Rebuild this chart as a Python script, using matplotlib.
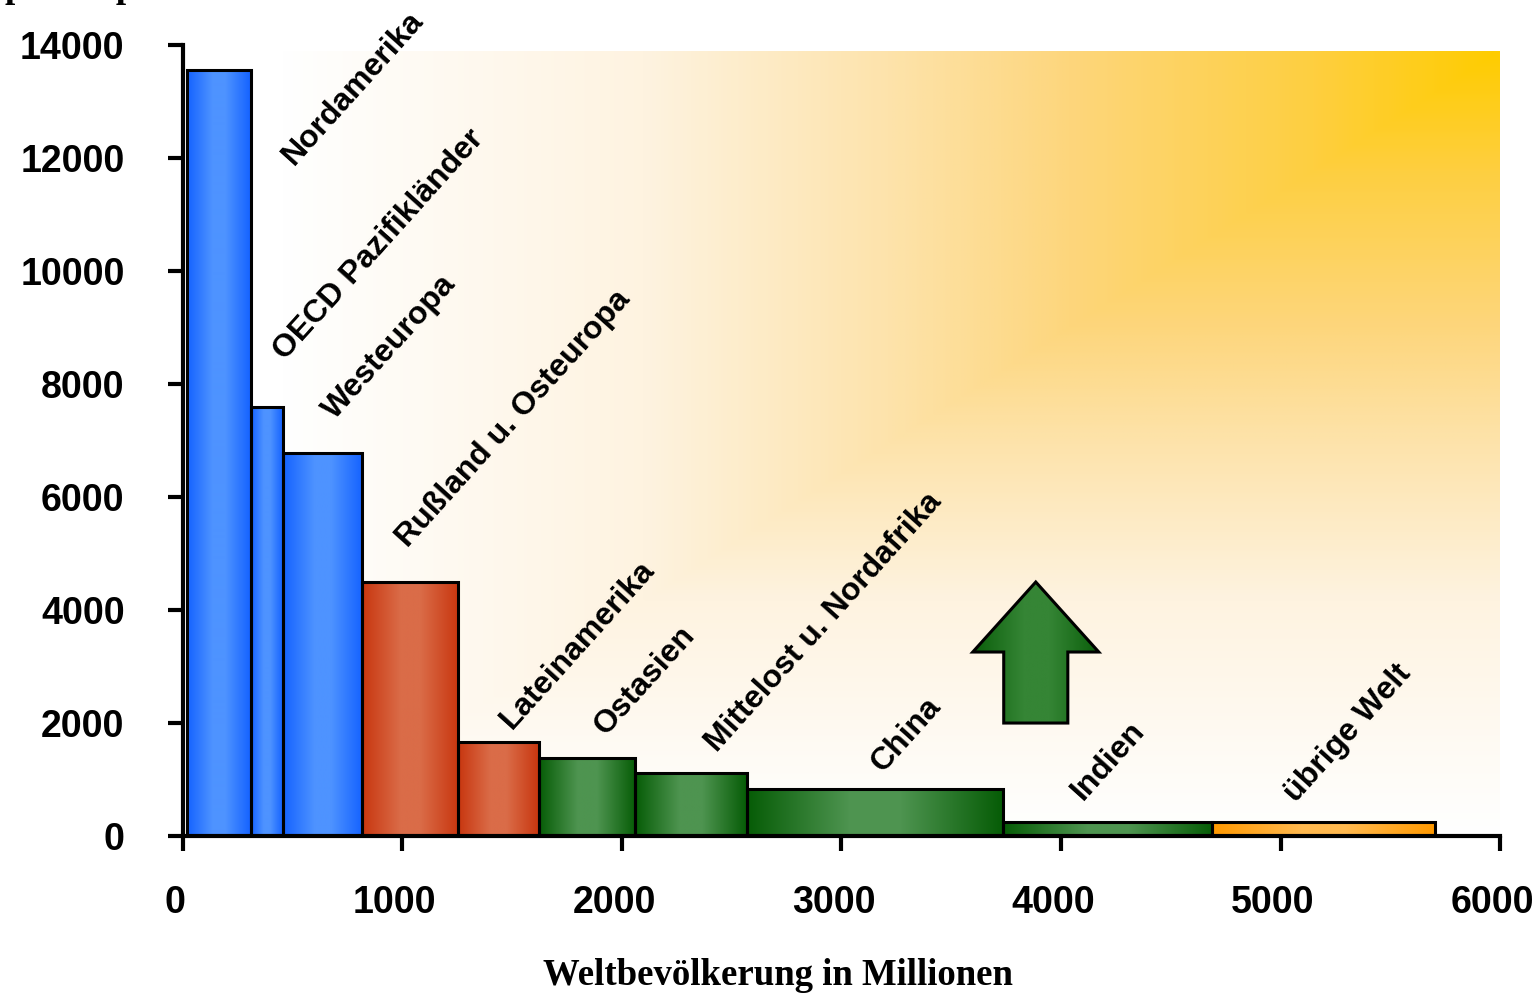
import numpy as np
import matplotlib
matplotlib.use("Agg")
import matplotlib.pyplot as plt
import matplotlib.transforms as mtransforms
from matplotlib.colors import LinearSegmentedColormap
from matplotlib.patches import Polygon

# Regionen: Bevoelkerung (Mio.) als Balkenbreite, Verbrauch pro Kopf als Hoehe
regions = ["Nordamerika", "OECD Pazifikländer", "Westeuropa", "Rußland u. Osteuropa",
           "Lateinamerika", "Ostasien", "Mittelost u. Nordafrika", "China",
           "Indien", "übrige Welt"]
population = [290, 145, 360, 440, 365, 440, 510, 1165, 955, 1015]
per_capita = [13550, 7600, 6780, 4500, 1670, 1390, 1110, 830, 240, 240]
group = ["blau", "blau", "blau", "rot", "rot", "gruen", "gruen", "gruen", "gruen", "orange"]
x_start = 20

# Lage der schraegen Beschriftungen (Datenkoordinaten)
lab_x = [505, 465, 690, 1025, 1500, 1925, 2435, 3190, 4100, 5070]
lab_y = [11850, 8400, 7350, 5100, 1880, 1770, 1470, 1115, 620, 585]

# Pfeil (Datenkoordinaten)
arrow_x = [3885, 4172, 4031, 4031, 3739, 3739, 3598]
arrow_y = [4496, 3257, 3257, 2000, 2000, 3257, 3257]

xticks = [0, 1000, 2000, 3000, 4000, 5000, 6000]
yticks = [0, 2000, 4000, 6000, 8000, 10000, 12000, 14000]

sans = "Liberation Sans"
serif = "Liberation Serif"

bar_cols = {
    "blau": ("#1462ff", "#4e93ff"),
    "rot": ("#c8360f", "#da6c48"),
    "gruen": ("#065c06", "#4e9450"),
    "orange": ("#ff9900", "#ffb94f"),
}
cmaps = {k: LinearSegmentedColormap.from_list(k, [(0, d), (0.4, l), (0.6, l), (1, d)])
         for k, (d, l) in bar_cols.items()}
bg_cmap = LinearSegmentedColormap.from_list(
    "bg", [(0, "#ffffff"), (0.3, "#fef3e0"), (0.5, "#fde3ab"),
           (0.65, "#fdd67c"), (0.85, "#fecf40"), (1, "#ffcc00")])
arrow_cmap = LinearSegmentedColormap.from_list(
    "arr", [(0, "#0a5e0a"), (0.4, "#358535"), (0.6, "#358535"), (1, "#0a5e0a")])

fig = plt.figure(figsize=(15.36, 9.96), dpi=100)
ax = fig.add_axes([0.1191, 0.1606, 0.8575, 0.7942])

# Hintergrundverlauf (weiss unten links -> gelb oben rechts)
u = np.linspace(0, 1, 300)
U, V = np.meshgrid(u, u)
ax.imshow(np.minimum(U, V), cmap=bg_cmap, origin="lower", aspect="auto",
          extent=(430, 6000, 0, 13880), zorder=0, interpolation="bilinear")

pop = np.array(population)
lefts = x_start + np.cumsum(pop) - pop
bars = ax.bar(lefts, per_capita, width=pop, align="edge", facecolor="none",
              edgecolor="black", linewidth=2.2, zorder=3)
grad = np.linspace(0, 1, 256).reshape(1, -1)
for b, g in zip(bars, group):
    im = ax.imshow(grad, cmap=cmaps[g], aspect="auto", zorder=2,
                   extent=(b.get_x(), b.get_x() + b.get_width(), 0, b.get_height()))
    im.set_clip_path(b)

for name, lx, ly in zip(regions, lab_x, lab_y):
    ax.text(lx, ly, name, rotation=48, rotation_mode="anchor", ha="left", va="baseline",
            fontsize=23, fontweight="bold", family=sans, zorder=4)

arr = Polygon(np.column_stack([arrow_x, arrow_y]), closed=True, facecolor="none",
              edgecolor="black", linewidth=2.2, zorder=5)
ax.add_patch(arr)
im = ax.imshow(grad, cmap=arrow_cmap, aspect="auto", zorder=4,
               extent=(min(arrow_x), max(arrow_x), min(arrow_y), max(arrow_y)))
im.set_clip_path(arr)

ax.set_xlim(0, 6000)
ax.set_ylim(0, 14000)
ax.set_xticks(xticks)
ax.set_yticks(yticks)
for s in ["top", "right"]:
    ax.spines[s].set_visible(False)
for s in ["left", "bottom"]:
    ax.spines[s].set_linewidth(3)
    ax.spines[s].set_zorder(6)
ax.tick_params(direction="out", length=11, width=3, labelsize=27)
ax.tick_params(axis="y", pad=31)
ax.tick_params(axis="x", pad=24)
for lab in ax.get_xticklabels() + ax.get_yticklabels():
    lab.set_fontfamily(sans)
    lab.set_fontweight("bold")
shift = mtransforms.ScaledTranslation(-8 / 100, 0, fig.dpi_scale_trans)
for lab in ax.get_xticklabels():
    lab.set_transform(lab.get_transform() + shift)

fig.text(778 / 1536, 1 - 975 / 996, "Weltbevölkerung in Millionen", ha="center", va="center",
         fontsize=26.5, fontweight="bold", family=serif)
# Achsentitel oben links, im Original fast ganz abgeschnitten
fig.text(5 / 1536, 1 + 3 / 996, "pro Kopf", ha="left", va="baseline",
         fontsize=26.5, fontweight="bold", family=serif)

fig.savefig("out.png", dpi=100)
